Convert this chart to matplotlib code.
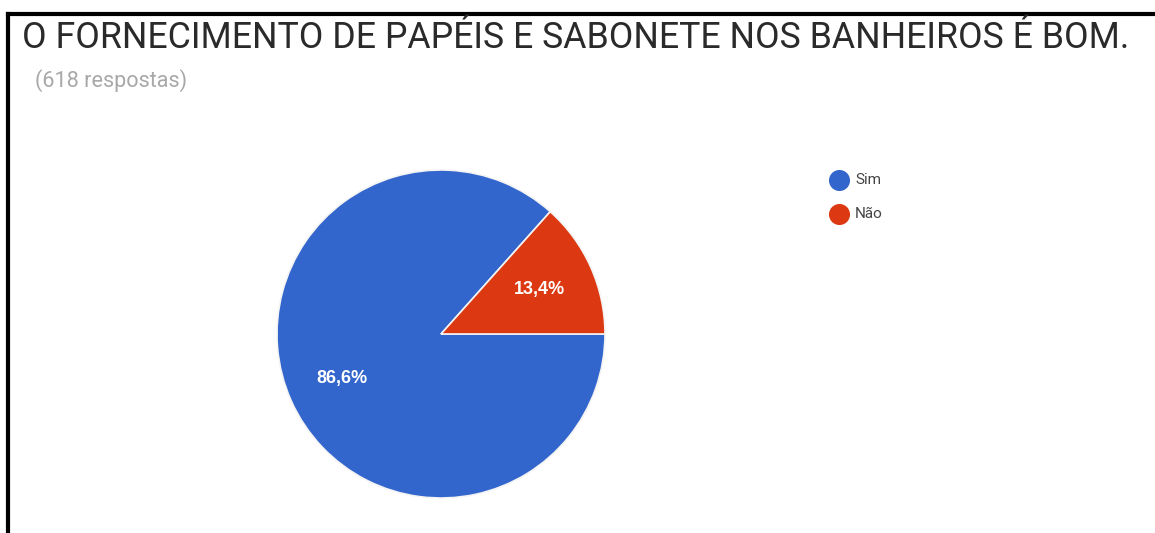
import matplotlib
matplotlib.use('Agg')
import numpy as np
import matplotlib.pyplot as plt
from matplotlib.lines import Line2D

labels = ['Sim', 'Não']
values = [86.6, 13.4]
colors = ['#3366cc', '#dc3912']
pct_labels = ['86,6%', '13,4%']

title = 'O FORNECIMENTO DE PAPÉIS E SABONETE NOS BANHEIROS É BOM.'
subtitle = '(618 respostas)'

plt.rcParams['font.family'] = ['Roboto', 'DejaVu Sans']

W, H = 1155, 533
fig = plt.figure(figsize=(W / 100, H / 100), dpi=100)
fig.patch.set_facecolor('white')
renderer = fig.canvas.get_renderer()


def fit_width(t, target_px):
    # ajusta o tamanho da fonte para ocupar a largura desejada
    w = t.get_window_extent(renderer=renderer).width
    t.set_fontsize(t.get_fontsize() * target_px / w)


# moldura preta (topo e esquerda)
fig.add_artist(Line2D([7.5 / W, 1], [1 - 14 / H, 1 - 14 / H], color='black', lw=3, transform=fig.transFigure))
fig.add_artist(Line2D([7.5 / W, 7.5 / W], [0, 1 - 14 / H], color='black', lw=3, transform=fig.transFigure))

t1 = fig.text(22 / W, 1 - 48 / H, title, fontsize=20, color='#2a2a2a', va='baseline', ha='left')
fit_width(t1, 1105)
t2 = fig.text(35 / W, 1 - 87 / H, subtitle, fontsize=12, color='#a8a8a8', va='baseline', ha='left')
fit_width(t2, 152)

# pizza
cx, cy, r = 441, 334, 164
ax = fig.add_axes([(cx - r) / W, (H - cy - r) / H, 2 * r / W, 2 * r / H])
wedges, texts = ax.pie(values, colors=colors, startangle=values[1] / 100 * 360,
                       counterclock=True, wedgeprops=dict(edgecolor='#f4f4f4', linewidth=1.2))
for w, lab in zip(wedges, pct_labels):
    ang = np.deg2rad((w.theta1 + w.theta2) / 2)
    ax.text(0.66 * np.cos(ang), 0.66 * np.sin(ang), lab, ha='center', va='center',
            color='white', fontsize=13, fontweight='bold', family=['Liberation Sans', 'DejaVu Sans'])
ax.set_xlim(-1, 1)
ax.set_ylim(-1, 1)
ax.set_aspect('equal')
ax.axis('off')

# legenda
lax = fig.add_axes([0, 0, 1, 1])
lax.set_xlim(0, W)
lax.set_ylim(H, 0)
lax.axis('off')
for i, (lab, c) in enumerate(zip(labels, colors)):
    y = 180 + i * 34
    lax.scatter([839], [y], s=200, color=c, zorder=3)
    lax.text(855, y, lab, fontsize=11, color='#444444', va='center', ha='left')

fig.savefig('out.png', dpi=100)
